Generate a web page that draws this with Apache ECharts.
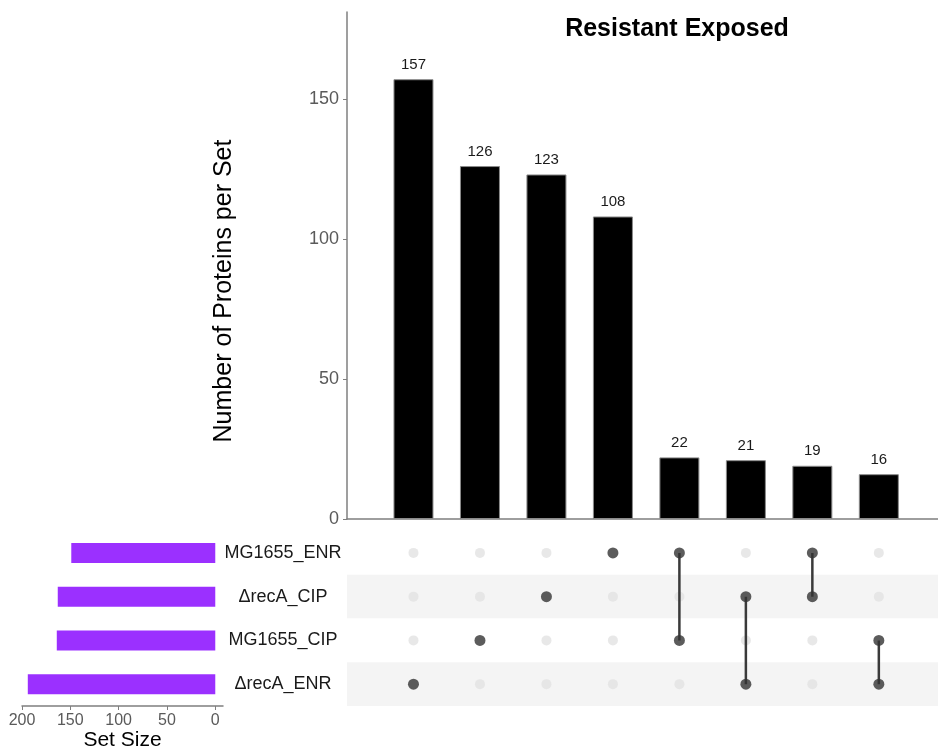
<!DOCTYPE html>
<html>
<head>
<meta charset="utf-8">
<script src="https://cdn.jsdelivr.net/npm/echarts@6/dist/echarts.min.js"></script>
<style>
  html, body { margin: 0; padding: 0; background: #fff; }
  #chart { width: 938px; height: 749px; }
</style>
</head>
<body>
<div id="chart"></div>
<script>
// sets, top row first
const sets = ["MG1655_ENR", "ΔrecA_CIP", "MG1655_CIP", "ΔrecA_ENR"];
const setSizes = [149, 163, 164, 194];
// intersections, left to right
const intersectionCounts = [157, 126, 123, 108, 22, 21, 19, 16];
const intersectionSets = [
  ["ΔrecA_ENR"],
  ["MG1655_CIP"],
  ["ΔrecA_CIP"],
  ["MG1655_ENR"],
  ["MG1655_ENR", "MG1655_CIP"],
  ["ΔrecA_CIP", "ΔrecA_ENR"],
  ["MG1655_ENR", "ΔrecA_CIP"],
  ["MG1655_CIP", "ΔrecA_ENR"]
];
const countTicks = [0, 50, 100, 150];
const sizeTicks = [0, 50, 100, 150, 200];

const font = "Liberation Sans, Arial, sans-serif";
const axisGrey = "#7f7f7f";
const tickGrey = "#5a5a5a";

const barData = intersectionCounts.map((v, i) => [i + 1, v]);

const activeDots = [];
const inactiveDots = [];
intersectionSets.forEach((members, i) => {
  sets.forEach(s => {
    if (members.indexOf(s) >= 0) activeDots.push([i + 1, s]);
    else inactiveDots.push([i + 1, s]);
  });
});

const linkSeries = [];
intersectionSets.forEach((members, i) => {
  if (members.length < 2) return;
  linkSeries.push({
    type: "line",
    xAxisIndex: 1,
    yAxisIndex: 1,
    data: members.map(s => [i + 1, s]),
    showSymbol: false,
    lineStyle: {color: "#3a3a3a", width: 2.5},
    z: 3,
    silent: true
  });
});

const chart = echarts.init(document.getElementById("chart"));
chart.setOption({
  animation: false,
  textStyle: {fontFamily: font},
  title: {
    text: "Resistant Exposed",
    left: 672,
    top: 12,
    textAlign: "center",
    textStyle: {fontSize: 25, fontWeight: "bold", color: "#000", fontFamily: font}
  },
  graphic: [{
    type: "text",
    x: 224,
    y: 291,
    rotation: Math.PI / 2,
    style: {
      text: "Number of Proteins per Set",
      font: "25px " + font,
      fill: "#000",
      align: "center",
      verticalAlign: "middle"
    }
  }],
  grid: [
    {left: 347, top: 12, width: 591, height: 507, outerBoundsMode: "none"},
    {left: 347, top: 531, width: 591, height: 175, outerBoundsMode: "none"},
    {left: 22, top: 531, width: 201, height: 175, outerBoundsMode: "none"}
  ],
  xAxis: [
    {
      gridIndex: 0, type: "value", min: 0, max: 8.89,
      axisLine: {show: true, lineStyle: {color: axisGrey, width: 1.5}},
      axisTick: {show: false}, axisLabel: {show: false}, splitLine: {show: false}
    },
    {
      gridIndex: 1, type: "value", min: 0, max: 8.89, show: false
    },
    {
      gridIndex: 2, type: "value", min: -8, max: 200, inverse: true,
      axisLine: {show: true, onZero: false, lineStyle: {color: axisGrey, width: 1.5}},
      axisTick: {show: true, length: 4, lineStyle: {color: axisGrey}, customValues: sizeTicks},
      axisLabel: {fontSize: 16, color: tickGrey, margin: 7, customValues: sizeTicks},
      splitLine: {show: false},
      name: "Set Size",
      nameLocation: "middle",
      nameGap: 20,
      nameTextStyle: {fontSize: 21, color: "#000", verticalAlign: "top"}
    }
  ],
  yAxis: [
    {
      gridIndex: 0, type: "value", min: 0, max: 181,
      axisLine: {show: true, lineStyle: {color: axisGrey, width: 1.5}},
      axisTick: {show: true, length: 4, lineStyle: {color: axisGrey}, customValues: countTicks},
      axisLabel: {fontSize: 18, color: tickGrey, margin: 8, customValues: countTicks},
      splitLine: {show: false}
    },
    {
      gridIndex: 1, type: "category", data: sets, inverse: true,
      axisLine: {show: false}, axisTick: {show: false},
      axisLabel: {fontSize: 18, color: "#1a1a1a", align: "center", margin: 64},
      splitArea: {show: true, areaStyle: {color: ["#ffffff", "#f4f4f4"]}}
    },
    {
      gridIndex: 2, type: "category", data: sets, inverse: true, show: false
    }
  ],
  series: [
    {
      type: "bar",
      xAxisIndex: 0,
      yAxisIndex: 0,
      data: barData,
      barWidth: 40,
      itemStyle: {color: "#000", borderColor: "#8a8a8a", borderWidth: 1},
      label: {show: true, position: "top", distance: 7, fontSize: 15, color: "#1a1a1a"},
      silent: true
    },
    {
      type: "scatter",
      xAxisIndex: 1,
      yAxisIndex: 1,
      data: inactiveDots,
      symbolSize: 10,
      itemStyle: {color: "#e2e2e2"},
      z: 2,
      silent: true
    },
    ...linkSeries,
    {
      type: "scatter",
      xAxisIndex: 1,
      yAxisIndex: 1,
      data: activeDots,
      symbolSize: 11,
      itemStyle: {color: "#333333"},
      z: 4,
      silent: true
    },
    {
      type: "bar",
      xAxisIndex: 2,
      yAxisIndex: 2,
      data: setSizes,
      barWidth: 20,
      itemStyle: {color: "#9b30ff"},
      silent: true
    }
  ]
});
</script>
</body>
</html>
